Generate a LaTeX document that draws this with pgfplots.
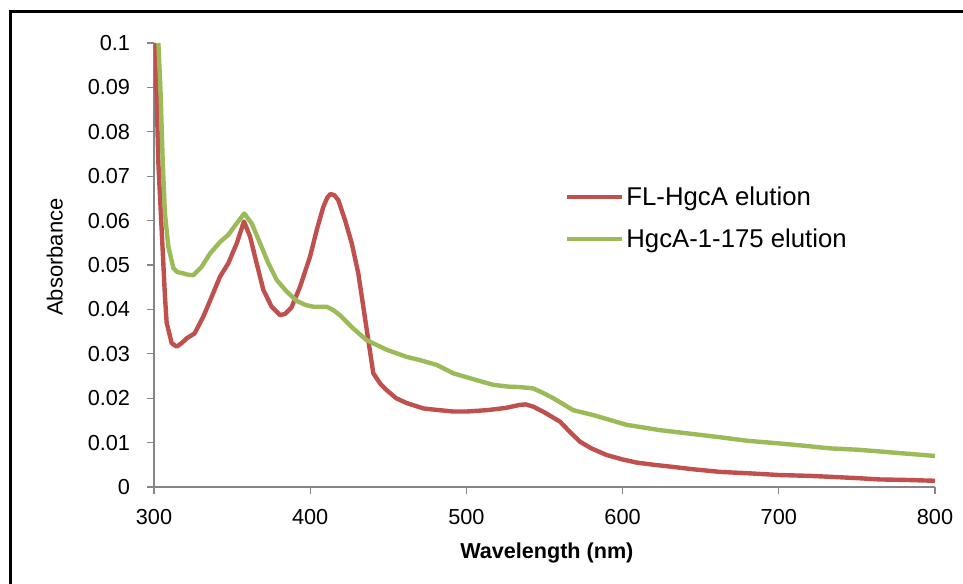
\documentclass[border=0pt]{standalone}
\usepackage{pgfplots}
\pgfplotsset{compat=1.18}
\usepackage{fontspec}
\setmainfont{Liberation Sans}
\definecolor{cred}{HTML}{C0504D}
\definecolor{cgreen}{HTML}{9BBB59}
\definecolor{cax}{HTML}{868686}
\begin{document}
\begin{tikzpicture}
\useasboundingbox (0,0) rectangle (722.25pt,438pt);
\fill[white] (0,0) rectangle (722.25pt,438pt);
\draw[black, line width=2.25pt] (7.5pt,0pt) -- (7.5pt,429pt) -- (722.25pt,429pt);
\begin{axis}[
  at={(115.5pt,72.75pt)}, anchor=south west,
  scale only axis, width=585.75pt, height=333pt,
  xmin=300, xmax=800, ymin=0, ymax=0.1,
  axis x line=bottom, axis y line=left,
  axis line style={-, draw=cax, line width=1pt},
  tick style={draw=cax, line width=1pt},
  tick align=outside, major tick length=5.25pt,
  xtick={300,400,...,800},
  ytick={0,0.01,...,0.1},
  scaled y ticks=false,
  /pgf/number format/assume math mode=true,
  yticklabel style={/pgf/number format/fixed, /pgf/number format/precision=2, inner sep=0pt, xshift=-12.5pt},
  xticklabel style={inner sep=0pt, yshift=-11pt},
  tick label style={font=\fontsize{16.3}{19}\selectfont},
  xlabel={\bfseries Wavelength (nm)},
  ylabel={Absorbance},
  xlabel style={font=\fontsize{16.2}{19}\selectfont, at={(axis description cs:0.503,-0.149)}, anchor=center},
  ylabel style={font=\fontsize{16.5}{19}\selectfont, at={(axis description cs:-0.127,0.518)}, anchor=center},
  legend style={at={(axis description cs:0.526,0.683)}, anchor=north west, draw=none, fill=none,
    font=\fontsize{19.3}{23}\selectfont, inner sep=0pt, row sep=12pt},
  legend cell align=left,
  legend image code/.code={\draw[#1, line width=3pt] (0pt,0pt) -- (41pt,0pt);},
  every axis plot/.append style={line width=3.3pt, line join=round},
]
\addplot[cred, no markers] coordinates {
(300.6,0.100) (301.7,0.088) (302.8,0.073) (304.9,0.058) (307,0.043) (308.1,0.037)
(309.5,0.035) (311.3,0.0324) (314.5,0.0316) (318,0.0325) (321,0.0335) (326,0.0346)
(331.6,0.0384) (337,0.0429) (342.3,0.0474) (347.6,0.0504) (353,0.0549) (357.6,0.0598)
(361.5,0.0564) (365.7,0.0504) (370,0.0444) (375.3,0.0406) (380.7,0.0387) (384,0.0390)
(388,0.0404) (393.5,0.0451) (399.9,0.0519) (404.2,0.0579) (408.4,0.0631) (411,0.0652)
(413,0.0660) (415.5,0.0657) (418,0.0646) (422.3,0.0601) (426.6,0.0549) (430.8,0.0481)
(434,0.0406) (436.2,0.0354) (440.4,0.0256) (445,0.0232) (449,0.0218) (455,0.0200)
(461.8,0.0189) (472.4,0.0177) (480,0.0174) (491.6,0.0170) (500,0.0170) (513,0.0173)
(525,0.0178) (534.3,0.0185) (538,0.0186) (542.8,0.0181) (550,0.0168) (560,0.0147)
(566,0.0125) (572.7,0.0102) (580,0.0087) (589.8,0.0072) (600,0.0062) (609,0.0055)
(620,0.0050) (630.3,0.0046) (645,0.0040) (662.4,0.0034) (680,0.0031) (700,0.0027)
(720,0.0025) (732.8,0.0023) (750,0.0020) (764.8,0.0017) (780,0.0016) (800,0.0014)
};
\addlegendentry{FL-HgcA elution}
\addplot[cgreen, no markers] coordinates {
(302.8,0.100) (304.3,0.088) (305.6,0.073) (307,0.0616) (309.2,0.0541) (312.4,0.0493)
(315,0.0484) (318.8,0.0481) (322,0.0478) (325.2,0.0477) (330.5,0.0496) (335.9,0.0526)
(342.3,0.0552) (347.6,0.0568) (353,0.0594) (357.8,0.0616) (362.5,0.0594) (367.9,0.0549)
(373.2,0.0504) (378.6,0.0466) (385,0.0440) (391.4,0.0419) (397,0.0410) (402,0.0406)
(410.6,0.0406) (415,0.0398) (419,0.0387) (427.6,0.0357) (436,0.0331) (449,0.0309)
(461.8,0.0293) (470,0.0286) (481,0.0275) (491.6,0.0256) (502.3,0.0245) (517.2,0.0230)
(527,0.0226) (534.3,0.0225) (542.8,0.0222) (549,0.0212) (555.6,0.0200) (568.4,0.0173)
(581.2,0.0162) (602.6,0.0140) (624,0.0128) (641,0.0121) (662.4,0.0112) (680,0.0104)
(700.8,0.0098) (716,0.0093) (732.8,0.0087) (750,0.0084) (764.8,0.0080) (782,0.0075)
(800,0.0070)
};
\addlegendentry{HgcA-1-175 elution}
\end{axis}
\end{tikzpicture}
\end{document}
